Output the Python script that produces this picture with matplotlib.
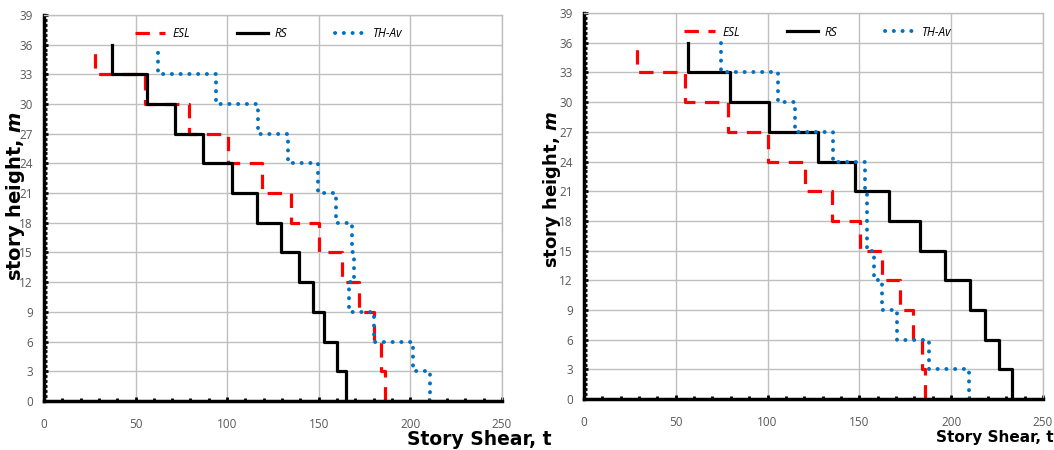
import numpy as np
import matplotlib.pyplot as plt
from matplotlib.ticker import MultipleLocator

# Story levels (m), one value per story from the ground up
floors = [0, 3, 6, 9, 12, 15, 18, 21, 24, 27, 30, 33, 36]

# Story shear (t), ground story first - model A
esl_a = [186, 184, 180, 172, 162.5, 150, 135, 119, 100.6, 79, 55, 28]
rs_a = [165, 160, 153, 147, 139, 129.4, 116.5, 102.4, 87, 71.7, 56.4, 37]
th_a = [211, 201.6, 180, 166.5, 169, 168.3, 159.4, 149.4, 133.4, 116.6, 93.9, 62]

# Story shear (t), ground story first - model B
esl_b = [186, 184.3, 179.2, 172.3, 162.5, 150.2, 135.2, 120.2, 100.3, 78.5, 55, 28.7]
rs_b = [233.2, 226, 218.5, 210.4, 196.8, 182.8, 166.1, 147.4, 127.5, 100.7, 79.8, 56.8]
th_b = [209.6, 187.7, 170.5, 162.5, 157.9, 154.3, 154.3, 152.9, 135.6, 115.2, 105.7, 74.9]

x_ticks = [0, 50, 100, 150, 200, 250]
y_ticks = list(range(0, 40, 3))

plt.rcParams['font.family'] = ['Open Sans', 'DejaVu Sans']
plt.rcParams['mathtext.fontset'] = 'custom'
plt.rcParams['mathtext.it'] = 'DejaVu Sans:italic:bold'


def stair(shear):
    # each story: vertical segment at its shear, joined at the floor levels
    v = np.repeat(shear, 2)
    h = np.repeat(floors, 2)[1:-1]
    return v, h


def draw(ax, esl, rs, th, leg_x, lab_x, lab_size):
    x, y = stair(esl)
    ax.plot(x, y, color='#ff0000', lw=2.3, ls=(0, (4.5, 3.0)), label='ESL')
    x, y = stair(rs)
    ax.plot(x, y, color='black', lw=2.3, label='RS')
    x, y = stair(th)
    ax.plot(x, y, color='#0070c0', lw=2.8, ls=(0, (0.05, 2.2)),
            dash_capstyle='round', label='TH-Av')

    ax.set_xlim(0, 250)
    ax.set_ylim(0, 39)
    ax.set_xticks(x_ticks)
    ax.set_yticks(y_ticks)
    ax.xaxis.set_minor_locator(MultipleLocator(10))
    ax.yaxis.set_minor_locator(MultipleLocator(0.5))
    ax.grid(True, which='major', color='#bfbfbf', lw=1.0)
    ax.set_axisbelow(True)
    ax.tick_params(which='both', direction='in', color='black', width=2)
    ax.tick_params(which='major', length=3, labelsize=8.5, labelcolor='#595959')
    ax.tick_params(which='minor', length=2.5)
    ax.tick_params(axis='x', which='major', pad=12)
    ax.tick_params(axis='y', which='major', pad=8)

    for side in ['left', 'bottom']:
        ax.spines[side].set_linewidth(2.5)
        ax.spines[side].set_color('black')
    for side in ['top', 'right']:
        ax.spines[side].set_linewidth(1.0)
        ax.spines[side].set_color('#bfbfbf')

    leg = ax.legend(loc='upper center', bbox_to_anchor=(leg_x, 0.995), ncol=3,
                    frameon=False, fontsize=8.5, handlelength=2.6,
                    columnspacing=4.0, handletextpad=0.6)
    for t in leg.get_texts():
        t.set_fontstyle('italic')

    ax.text(lab_x, -0.10, 'Story Shear, t', transform=ax.transAxes,
            ha='left', va='center', fontsize=lab_size, fontweight='bold',
            family=['DejaVu Sans'])


fig = plt.figure(figsize=(10.54, 4.5), dpi=100)
ax1 = fig.add_axes([0.0417, 0.109, 0.4345, 0.858])
ax2 = fig.add_axes([0.554, 0.113, 0.4355, 0.858])

draw(ax1, esl_a, rs_a, th_a, 0.49, 0.793, 13.5)
draw(ax2, esl_b, rs_b, th_b, 0.51, 0.768, 11)

fig.text(0.015, 0.564, r'story height, $m$', rotation=90, ha='center',
         va='center', fontsize=14, fontweight='bold', family=['DejaVu Sans'])
fig.text(0.524, 0.578, r'story height, $m$', rotation=90, ha='center',
         va='center', fontsize=13, fontweight='bold', family=['DejaVu Sans'])

fig.savefig('out.png', dpi=100)
